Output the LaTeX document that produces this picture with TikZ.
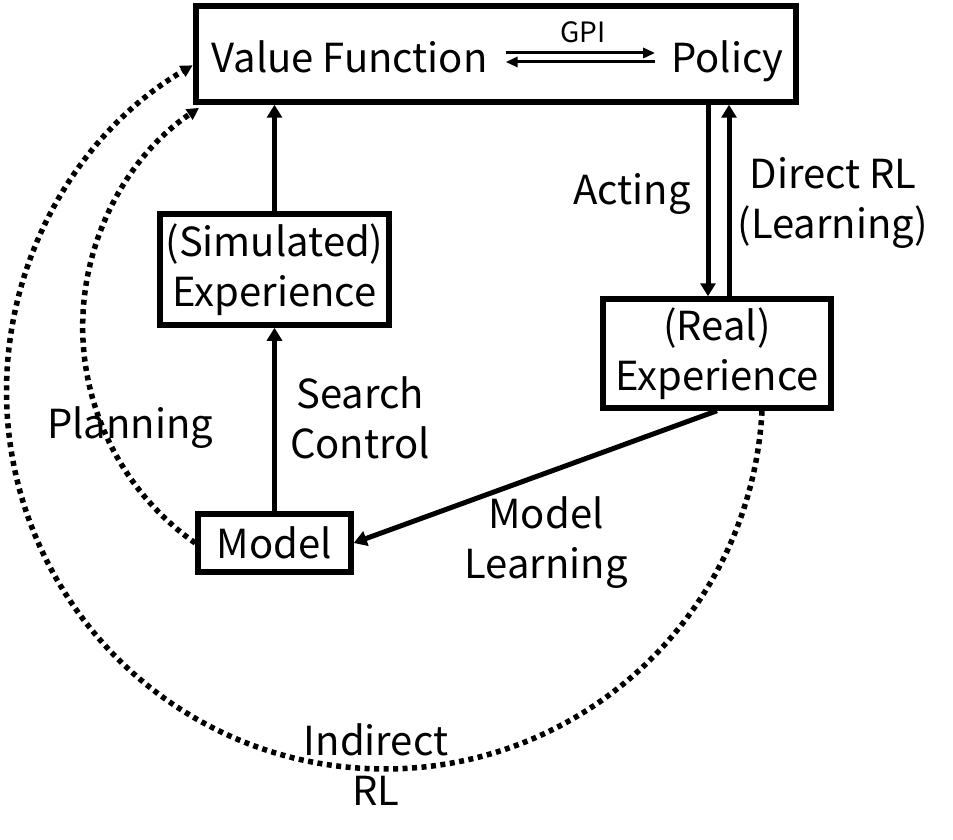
\documentclass[tikz,border=0pt]{standalone}
\usepackage{fontspec}
\setmainfont{Noto Sans CJK KR}
\usetikzlibrary{arrows.meta}

\newcommand{\lblfont}{\fontsize{40}{50}\selectfont}
\newcommand{\gpifont}{\fontsize{28}{32}\selectfont}

\begin{document}
\begin{tikzpicture}[x=1pt, y=-1pt]
      \tikzstyle{box}=[draw, line width=5.5pt, align=center, inner sep=0pt, font=\lblfont]
      \tikzstyle{lbl}=[align=center, inner sep=0pt, font=\lblfont]
      \tikzstyle{arr}=[line width=5pt, -{Triangle[length=13pt, width=15pt]}]
      \tikzstyle{gpiarr}=[line width=3pt, -{Triangle[length=12pt, width=10pt]}]
      \tikzstyle{dotarr}=[line width=5.5pt, dash pattern=on 5pt off 4.5pt,
        -{Triangle[length=12pt, width=12pt]}]

      \useasboundingbox (0,0) rectangle (953,840);

      \path (496,54) node[box, minimum width=600pt, minimum height=96pt] (top) {};
      \path (349.5,73) node[lbl, anchor=base, inner xsep=18pt] (vf) {Value Function};
      \path (727.5,73) node[lbl, anchor=base, inner xsep=16pt] (pol) {Policy};
      \path (583,32) node[lbl, font=\gpifont] (gpi) {GPI};

      \path (274.5,269.5) node[box, minimum width=229pt, minimum height=111pt] (sim) {(Simulated)\\Experience};
      \path (717,353.5) node[box, minimum width=228pt, minimum height=109pt] (real) {(Real)\\Experience};
      \path (274.5,543) node[box, minimum width=153pt, minimum height=58pt] (model) {Model};

      \path (632,194) node[lbl] (acting) {Acting};
      \path (833,203) node[lbl] (direct) {Direct RL\\(Learning)};
      \path (360,418) node[lbl] (search) {Search\\Control};
      \path (130,428) node[lbl] (planning) {Planning};
      \path (546,543) node[lbl] (mlearn) {Model\\Learning};
      \path (376,765) node[lbl] (indirect) {Indirect\\RL};

      \coordinate (xact) at (708,0);
      \coordinate (xdir) at (729,0);
      \coordinate (xind) at (762,0);

      \draw [gpiarr]
        ([yshift=20pt]vf.base east) -- ([yshift=20pt]pol.base west);
      \draw [gpiarr]
        ([yshift=11pt]pol.base west) -- ([yshift=11pt]vf.base east);

      \draw [arr] (model) -- (sim);
      \draw [arr] (sim.north) -- (sim.north |- top.south);
      \draw [arr] (top.south -| xact) -- (real.north -| xact);
      \draw [arr] (real.north -| xdir) -- (top.south -| xdir);
      \draw [arr] (real.south) -- (model.east);

      \draw [dotarr] (model.west) arc[start angle=125, end angle=236, radius=264];
      \draw [dotarr] (real.south -| xind) arc[start angle=3, end angle=239.5, radius=378];
    \end{tikzpicture}
\end{document}
